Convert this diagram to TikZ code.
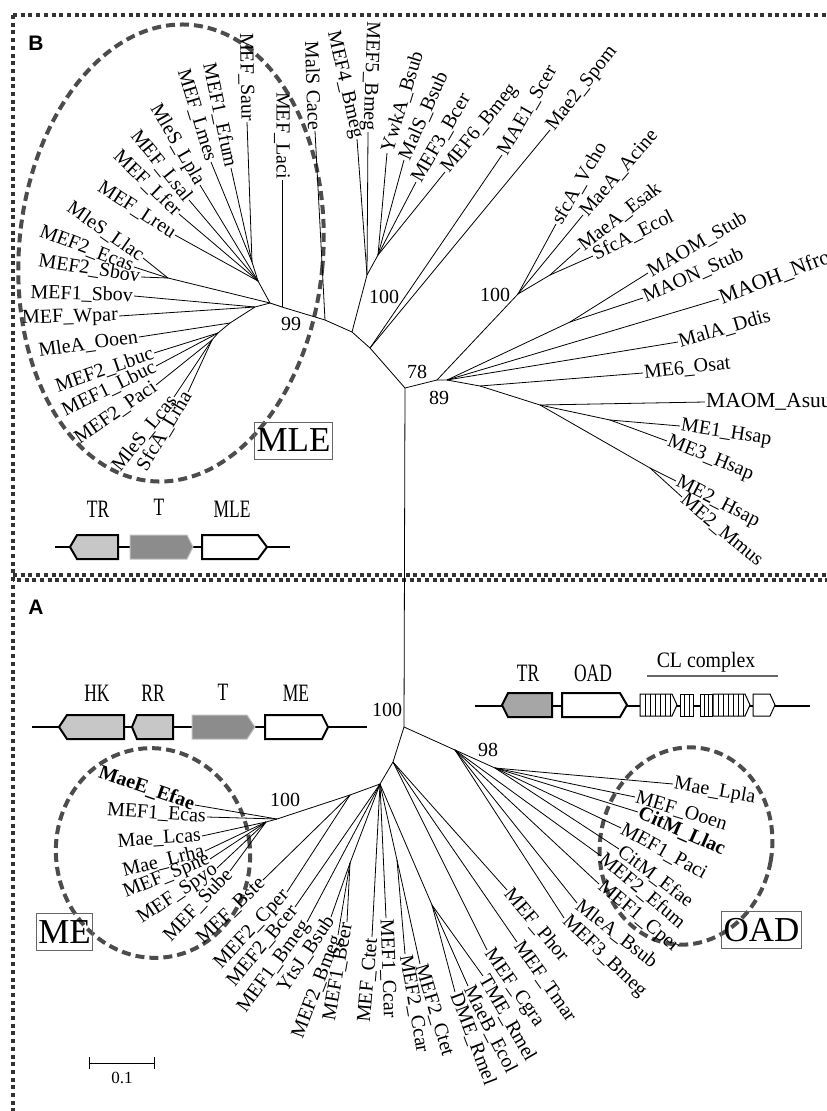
\documentclass[tikz,border=0pt]{standalone}
\usepackage{fontspec}
\setmainfont{Liberation Serif}
\newfontfamily\hsans{Liberation Sans}
\usetikzlibrary{calc}
\newcommand\lf[6]{\coordinate (#1) at (#3); \draw[br] (#2) -- (#1); \node[lab,rotate=#4,anchor=#5] (#1l) at (#1) {#6};}
\newcommand\cnd[1]{\scalebox{0.7}[1]{#1}}
\begin{document}
\begin{tikzpicture}[x=1pt,y=-1pt,
  br/.style={line width=0.8pt},
  lab/.style={font=\fontsize{20}{20}\selectfont, inner sep=1pt},
  boot/.style={font=\fontsize{20}{20}\selectfont, inner sep=0pt},
  glab/.style={font=\fontsize{25}{25}\selectfont, inner sep=0pt},
  bigbox/.style={draw=black!60, line width=1pt, font=\fontsize{35}{35}\selectfont, inner sep=2pt, minimum height=37pt},
  clade/.style={draw=black!70, line width=4pt, dash pattern=on 9pt off 5pt},
  fdot/.style={draw=black!80, line width=4pt, dash pattern=on 4pt off 3.7pt},
  gene/.style={draw=black, line width=2pt, line join=miter},
  panel/.style={font=\hsans\bfseries\fontsize{21}{21}\selectfont, inner sep=0pt}
]
\useasboundingbox (0,0) rectangle (827,1111);
\fill[white] (0,0) rectangle (827,1111);

% ---------- frame ----------
\draw[fdot] (13,15) -- (827,15);
\draw[fdot] (13,15) -- (13,1111);
\draw[fdot] (13,574.5) -- (827,574.5);
\draw[fdot, dash phase=3.8pt] (13,580) -- (827,580);

\node[panel] (pB) at (36,43) {B};
\node[panel] (pA) at (36,607) {A};

% ---------- clade ellipses ----------
\draw[clade, rotate around={-5:(171,253)}] (171,253) ellipse [x radius=152, y radius=229];
\draw[clade, rotate around={8:(153,853)}] (153,853) ellipse [x radius=97, y radius=105];
\draw[clade, rotate around={-10:(686,846)}] (686,846) ellipse [x radius=86, y radius=99];

% ---------- tree B backbone ----------
\coordinate (R) at (405,388);
\coordinate (A1) at (370,348);
\coordinate (B1) at (352,332);
\coordinate (C1) at (325,320);
\coordinate (D1) at (282,307);
\coordinate (N99) at (270,303);
\coordinate (U1) at (258,281);
\coordinate (U2) at (252,262);
\coordinate (L1) at (168,278);
\coordinate (L2) at (255,307);
\coordinate (L3) at (230,323);
\coordinate (L4) at (218,333);
\coordinate (L5) at (212,340);
\coordinate (E1) at (367,275);
\coordinate (F1) at (378,255);
\draw[br] (R) -- (A1) -- (B1) -- (C1) -- (D1) -- (N99) -- (U1) -- (U2);
\draw[br] (N99) -- (L1);
\draw[br] (N99) -- (L2) -- (L3) -- (L4) -- (L5);
\draw[br] (B1) -- (E1) -- (F1);

\lf{laci}{D1}{282,180}{-90}{east}{MEF\_Laci}
\lf{saur}{U2}{247,122}{-89}{east}{MEF\_Saur}
\lf{efum1}{U2}{231,168}{-78}{east}{MEF1\_Efum}
\lf{lmes}{U2}{211,162}{-73}{east}{MEF\_Lmes}
\lf{lpla}{U1}{200,185}{-60}{east}{MleS\_Lpla}
\lf{lsal}{U1}{189,200}{-51}{east}{MEF\_Lsal}
\lf{lfer}{U1}{179,214}{-44}{east}{MEF\_Lfer}
\lf{lreu}{U1}{175,235}{-33}{east}{MEF\_Lreu}
\lf{llac}{L1}{143,258}{-35}{east}{MleS\_Llac}
\lf{ecas2}{L1}{134,267}{-21}{east}{MEF2\_Ecas}
\lf{sbov2}{L1}{141,277}{-9}{east}{MEF2\_Sbov}
\lf{sbov1}{L2}{134,296}{-2}{east}{MEF1\_Sbov}
\lf{wpar}{L2}{119,316}{2}{east}{MEF\_Wpar}
\lf{ooenB}{L3}{139,337}{8}{east}{MleA\_Ooen}
\lf{lbuc2}{L4}{154,353}{19}{east}{MEF2\_Lbuc}
\lf{lbuc1}{L4}{156,366}{26}{east}{MEF1\_Lbuc}
\lf{paci2}{L5}{156,385}{35}{east}{MEF2\_Paci}
\lf{lcasB}{L5}{174,397}{51}{east}{MleS\_Lcas}
\lf{lrhaB}{L5}{188,392}{59}{east}{SfcA\_Lrha}

\lf{cace}{C1}{315,131}{-88}{east}{MalS Cace}
\lf{bmeg4}{E1}{357,139}{-77}{east}{MEF4\_Bmeg}
\lf{bmeg5}{E1}{368,132}{-92}{east}{MEF5\_Bmeg}
\lf{ywka}{F1}{387,153}{73}{west}{YwkA\_Bsub}
\lf{malsb}{F1}{404,160}{66}{west}{MalS\_Bsub}
\lf{bcer3}{F1}{416,182}{60}{west}{MEF3\_Bcer}
\lf{bmeg6}{F1}{445,172}{51}{west}{MEF6\_Bmeg}
\lf{scer}{A1}{502,155}{60}{west}{MAE1\_Scer}
\lf{spom}{A1}{550,130}{52}{west}{Mae2\_Spom}

% right part of tree B
\coordinate (G1) at (437,380);
\coordinate (G2) at (447,380);
\coordinate (G3) at (480,386);
\coordinate (G4) at (540,405);
\coordinate (G5) at (610,420);
\coordinate (G6) at (650,468);
\coordinate (H100) at (518,294);
\coordinate (H2) at (550,275);
\coordinate (MM) at (570,322);
\draw[br] (R) -- (G1) -- (G2) -- (G3) -- (G4) -- (G5);
\draw[br] (G4) -- (G6);
\draw[br] (G1) -- (H100) -- (H2);
\draw[br] (G2) -- (MM);

\lf{vcho}{H100}{556,224}{60}{west}{sfcA\_Vcho}
\lf{acine}{H100}{583,215}{49}{west}{MaeA\_Acine}
\lf{esak}{H2}{580,248}{38}{west}{MaeA\_Esak}
\lf{ecol}{H2}{593,256}{27}{west}{SfcA\_Ecol}
\lf{maoms}{MM}{648,273}{30}{west}{MAOM\_Stub}
\lf{maons}{MM}{643,298}{24}{west}{MAON\_Stub}
\lf{maoh}{G2}{719,299}{21}{west}{\fontsize{21.5}{21.5}\selectfont MAOH\_Nfro}
\lf{mala}{G2}{678,342}{16}{west}{MalA\_Ddis}
\lf{osat}{G3}{643,373}{6}{west}{ME6\_Osat}
\lf{asuu}{G4}{705,402}{0}{west}{\fontsize{21.5}{21.5}\selectfont MAOM\_Asuu}
\lf{hsap1}{G5}{680,426}{-9}{west}{ME1\_Hsap}
\lf{hsap3}{G5}{667,441}{-22}{west}{ME3\_Hsap}
\lf{hsap2}{G6}{676,481}{-27}{west}{ME2\_Hsap}
\lf{mmus}{G6}{682,497}{-40}{west}{ME2\_Mmus}

\node[boot] (b78) at (417,372) {78};
\node[boot] (b89) at (439,398) {89};
\node[boot] (b100a) at (384,297) {100};
\node[boot] (b100b) at (495,295) {100};
\node[boot] (b99) at (291,324) {99};

\node[bigbox] (mlebox) at (293.5,440.5) {MLE};

% ---------- tree A ----------
\coordinate (N0) at (404,727);
\draw[br] (R) -- (N0);
\coordinate (Nk) at (455,750);
\coordinate (N98) at (495,768);
\coordinate (Nb) at (393,762);
\coordinate (Na) at (380,784);
\coordinate (Nc) at (350,795);
\coordinate (MEn) at (277,819);
\coordinate (MEs) at (266,822);
\coordinate (Ne) at (350,863);
\coordinate (Nf) at (397,860);
\coordinate (Ng) at (432,905);
\draw[br] (N0) -- (Nk) -- (N98);
\draw[br] (N0) -- (Nb) -- (Na) -- (Nc) -- (MEn) -- (MEs);
\draw[br] (Na) -- (Ne);
\draw[br] (Na) -- (Nf);
\draw[br] (Na) -- (Ng);

\lf{lplaA}{N98}{673,784}{-10}{west}{Mae\_Lpla}
\lf{ooen}{N98}{635,797}{-17}{west}{MEF\_Ooen}
\lf{cllac}{N98}{638,812}{-24}{west}{\textbf{CitM\_Llac}}
\lf{paci1}{N98}{621,828}{-29}{west}{MEF1\_Paci}
\lf{cefae}{N98}{619,849}{-37}{west}{CitM\_Efae}
\lf{efum2}{Nk}{601,856}{-40}{west}{MEF2\_Efum}
\lf{cper1}{Nk}{599,884}{-40}{west}{MEF1\_Cper}
\lf{mlea}{Nk}{577,903}{-38}{west}{MleA\_Bsub}
\lf{bmeg3}{Nk}{564,918}{-44}{west}{MEF3\_Bmeg}
\lf{phor}{Nb}{507,890}{-50}{west}{MEF\_Phor}
\lf{tmar}{Nb}{517,942}{-55}{west}{MEF\_Tmar}
\lf{cgra}{Nb}{487,950}{-55}{west}{MEF\_Cgra}
\lf{tme}{Ng}{483,976}{-60}{west}{TME\_Rmel}
\lf{maeb}{Ng}{468,986}{-63}{west}{MaeB\_Ecol}
\lf{dme}{Ng}{455,992}{-69}{west}{DME\_Rmel}
\lf{ctet2}{Nf}{420,964}{-73}{west}{MEF2\_Ctet}
\lf{ccar2}{Nf}{405,954}{-80}{west}{MEF2\_Ccar}
\lf{ccar1}{Na}{386,918}{-88}{west}{MEF1\_Ccar}
\lf{ctet}{Na}{372,937}{85}{east}{MEF\_Ctet}
\lf{bcer1}{Ne}{347,922}{80}{east}{MEF1\_Bcer}
\lf{bmeg2}{Ne}{338,935}{69}{east}{MEF2\_Bmeg}
\lf{ytsj}{Ne}{331,917}{56}{east}{YtsJ\_Bsub}
\lf{bmeg1}{Na}{307,922}{54}{east}{MEF1\_Bmeg}
\lf{bcer2}{Na}{295,907}{50}{east}{MEF2\_Bcer}
\lf{cper2}{Nc}{287,892}{47}{east}{MEF2\_Cper}
\lf{bste}{Nc}{263,880}{44}{east}{MEF\_Bste}

\lf{maee}{MEn}{195,805}{-19}{east}{\textbf{MaeE\_Efae}}
\lf{ecas1}{MEn}{207,817}{-4}{east}{MEF1\_Ecas}
\lf{lcas}{MEs}{202,836}{4}{east}{Mae\_Lcas}
\lf{lrha}{MEs}{205,851}{14}{east}{Mae\_Lrha}
\lf{spne}{MEs}{210,859}{22}{east}{MEF\_Spne}
\lf{spyo}{MEs}{217,868}{34}{east}{MEF\_Spyo}
\lf{sube}{MEs}{230,871}{47}{east}{MEF\_Sube}

\node[boot] (a100) at (387,710) {100};
\node[boot] (a100b) at (285,800) {100};
\node[boot] (a98) at (488,750) {98};

\node[bigbox] (mebox) at (64.5,932) {ME};
\node[bigbox] (oadbox) at (761.5,930) {OAD};

% scale bar
\coordinate (sb1) at (89,1063);
\coordinate (sb2) at (154,1063);
\draw[line width=1pt] (sb1) -- (sb2);
\draw[line width=1pt] ($(sb1)+(0,-6)$) -- ($(sb1)+(0,6)$);
\draw[line width=1pt] ($(sb2)+(0,-6)$) -- ($(sb2)+(0,6)$);
\node[font=\fontsize{17}{17}\selectfont] (sbl) at (122,1078) {0.1};

% ---------- gene diagram B ----------
\draw[line width=2pt] (55,547) -- (290,547);
\draw[gene, fill=black!22] (70,547) -- (77,535) -- (118,535) -- (118,559) -- (77,559) -- cycle;
\draw[draw=black!25, line width=1pt, fill=black!45] (130,535) -- (187,535) -- (193,547) -- (187,559) -- (130,559) -- cycle;
\draw[gene, fill=white] (202,535) -- (258,535) -- (267,547) -- (258,559) -- (202,559) -- cycle;
\node[glab] (gTR1) at (98,509) {\cnd{TR}};
\node[glab] (gT1) at (159,507) {\cnd{T}};
\node[glab] (gM1) at (232,509) {\cnd{MLE}};

% ---------- gene diagram A (ME) ----------
\draw[line width=2pt] (32,727) -- (367,727);
\draw[gene, fill=black!22] (59,727) -- (67,715) -- (124,715) -- (124,739) -- (67,739) -- cycle;
\draw[gene, fill=black!22] (132,727) -- (137,715) -- (173,715) -- (173,739) -- (137,739) -- cycle;
\draw[draw=black!25, line width=1pt, fill=black!45] (192,715) -- (247,715) -- (255,727) -- (247,739) -- (192,739) -- cycle;
\draw[gene, fill=white] (265,715) -- (322,715) -- (328,727) -- (322,739) -- (265,739) -- cycle;
\node[glab] (gHK) at (97,693) {\cnd{HK}};
\node[glab] (gRR) at (153,693) {\cnd{RR}};
\node[glab] (gT2) at (223,692) {\cnd{T}};
\node[glab] (gME) at (296,693) {\cnd{ME}};

% ---------- gene diagram A (OAD) ----------
\draw[line width=2pt] (475,706) -- (810,706);
\draw[gene, fill=black!35] (502,705) -- (508,693) -- (552,693) -- (552,717) -- (508,717) -- cycle;
\draw[gene, fill=white] (562,693) -- (620,693) -- (627,705) -- (620,717) -- (562,717) -- cycle;
\draw[line width=1pt, fill=white] (640,694) -- (672,694) -- (677,705) -- (672,716) -- (640,716) -- cycle;
\foreach \s in {645,650,...,670} \draw[line width=1pt] (\s,694) -- (\s,716);
\draw[line width=1pt, fill=white] (680,694) rectangle (693,716);
\foreach \s in {684,689} \draw[line width=1pt] (\s,694) -- (\s,716);
\draw[line width=1pt, fill=white] (700,694) rectangle (712,716);
\foreach \s in {704,708} \draw[line width=1pt] (\s,694) -- (\s,716);
\draw[line width=1pt, fill=white] (713,694) -- (745,694) -- (750,705) -- (745,716) -- (713,716) -- cycle;
\foreach \s in {718,723,...,743} \draw[line width=1pt] (\s,694) -- (\s,716);
\draw[line width=1pt, fill=white] (753,694) -- (770,694) -- (775,705) -- (770,716) -- (753,716) -- cycle;
\node[glab] (gTR2) at (528,673) {\cnd{TR}};
\node[glab] (gOAD) at (593,673) {\cnd{OAD}};
\node[font=\fontsize{22}{22}\selectfont, inner sep=0pt] (gCL) at (706,662) {\scalebox{0.9}[1]{CL complex}};
\draw[line width=2pt, black!60] (647,676) -- (778,676);

\end{tikzpicture}
\end{document}
